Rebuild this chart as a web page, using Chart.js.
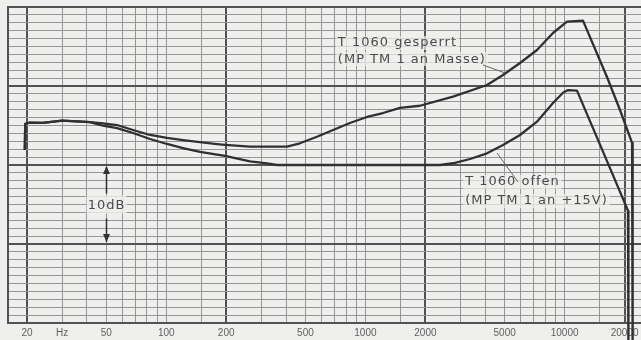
<!DOCTYPE html>
<html>
<head>
<meta charset="utf-8">
<style>
  html, body { margin: 0; padding: 0; background: #efefed; }
  #wrap { width: 641px; height: 340px; }
</style>
<script src="https://cdn.jsdelivr.net/npm/chart.js@4.4.1/dist/chart.umd.min.js"></script>
</head>
<body>
<div id="wrap"><canvas id="chart" width="641" height="340"></canvas></div>
<script>
// log paper: vertical lines (Hz) and the labelled ones
const gridFreqs = [20, 30, 40, 50, 60, 70, 80, 90, 100, 150, 200, 300, 400, 500, 600, 700, 800, 900,
    1000, 1500, 2000, 3000, 4000, 5000, 6000, 7000, 8000, 9000, 10000, 15000, 20000];
const thickFreqs = [20, 200, 2000, 20000];
const labelFreqs = [20, 30, 50, 100, 200, 500, 1000, 2000, 5000, 10000, 20000];
const labelTexts = ['20', 'Hz', '50', '100', '200', '500', '1000', '2000', '5000', '10000', '20000'];

// T 1060 gesperrt (MP TM 1 an Masse)
const freqGesperrt = [19.5, 19.6, 20.5, 24.0, 30.0, 35.6, 41.4, 48.1, 56.6, 68.1, 82.9, 100.9, 121.4,
    147.8, 179.9, 197.3, 263.4, 403.8, 469, 571, 688, 836, 1018, 1225, 1491, 1879, 2752, 4076, 4906,
    5969, 7265, 8738, 10276, 12362, 16314, 18961, 21800, 21950];
const levelGesperrt = [-18.1, -14.8, -14.65, -14.68, -14.39, -14.49, -14.56, -14.72, -14.94, -15.57,
    -16.2, -16.58, -16.84, -17.1, -17.35, -17.45, -17.68, -17.68, -17.25, -16.42, -15.57, -14.68,
    -13.92, -13.42, -12.78, -12.5, -11.35, -9.87, -8.61, -7.09, -5.44, -3.29, -1.86, -1.73, -8.86,
    -13.04, -17.2, -46];

// T 1060 offen (MP TM 1 an +15V)
const freqOffen = [19.5, 19.6, 20.5, 24.0, 30.0, 35.6, 41.4, 48.1, 56.6, 68.1, 82.9, 100.9, 121.4,
    147.8, 179.9, 197.3, 263.4, 320.6, 359.8, 2369, 2752, 3349, 4076, 4906, 5969, 7265, 8738, 9811,
    10397, 11535, 16892, 20804, 20900];
const levelOffen = [-18.1, -14.8, -14.65, -14.68, -14.39, -14.49, -14.56, -15.03, -15.32, -15.95,
    -16.71, -17.34, -17.85, -18.35, -18.7, -18.85, -19.55, -19.8, -20, -20, -19.78, -19.24, -18.52,
    -17.47, -16.2, -14.52, -12.15, -10.85, -10.51, -10.59, -20.4, -25.8, -46];

const ink = '#303030';
const thinGrid = '#969696';
const thickGrid = '#525252';

// labels written on the sheet, placed in (Hz, dB)
const notes = [
    { f: 727, db: -4.56, text: 'T 1060 gesperrt' },
    { f: 727, db: -6.6, text: '(MP TM 1 an Masse)' },
    { f: 3166, db: -22.15, text: 'T 1060 offen' },
    { f: 3166, db: -24.56, text: '(MP TM 1 an +15V)' }
];
const leaders = [
    [3891, -7.34, 5018, -8.35],
    [4575, -18.48, 5832, -22.15]
];

const paperPlugin = {
    id: 'paper',
    beforeDraw(chart) {
        const ctx = chart.ctx;
        ctx.save();
        ctx.fillStyle = '#efefed';
        ctx.fillRect(0, 0, chart.width, chart.height);
        ctx.restore();
    }
};

const notesPlugin = {
    id: 'notes',
    afterDatasetsDraw(chart) {
        const { ctx, scales: { x, y } } = chart;
        ctx.save();
        ctx.font = '13px "DejaVu Sans"';
        ctx.letterSpacing = '1px';
        ctx.textBaseline = 'middle';
        notes.forEach(n => {
            const px = x.getPixelForValue(n.f);
            const py = y.getPixelForValue(n.db);
            const w = ctx.measureText(n.text).width;
            ctx.fillStyle = 'rgba(239,239,237,0.7)';
            ctx.fillRect(px - 2, py - 7, w + 4, 14);
            ctx.fillStyle = '#4a4a4a';
            ctx.fillText(n.text, px, py);
        });

        ctx.strokeStyle = '#666';
        ctx.lineWidth = 1;
        leaders.forEach(l => {
            ctx.beginPath();
            ctx.moveTo(x.getPixelForValue(l[0]), y.getPixelForValue(l[1]));
            ctx.lineTo(x.getPixelForValue(l[2]), y.getPixelForValue(l[3]));
            ctx.stroke();
        });

        // 10 dB marker
        const mx = Math.round(x.getPixelForValue(50)) + 0.5;
        const top = y.getPixelForValue(-20);
        const bottom = y.getPixelForValue(-30);
        const mid = (top + bottom) / 2;
        ctx.fillStyle = 'rgba(239,239,237,0.8)';
        ctx.fillRect(mx - 20, mid - 9, 40, 18);
        ctx.strokeStyle = '#333';
        ctx.lineWidth = 1.5;
        ctx.beginPath();
        ctx.moveTo(mx, top + 2);
        ctx.lineTo(mx, mid - 11);
        ctx.moveTo(mx, mid + 14);
        ctx.lineTo(mx, bottom - 2);
        ctx.stroke();
        ctx.fillStyle = '#333';
        ctx.beginPath();
        ctx.moveTo(mx, top + 1);
        ctx.lineTo(mx - 3.5, top + 9);
        ctx.lineTo(mx + 3.5, top + 9);
        ctx.closePath();
        ctx.fill();
        ctx.beginPath();
        ctx.moveTo(mx, bottom - 2);
        ctx.lineTo(mx - 3.5, bottom - 10);
        ctx.lineTo(mx + 3.5, bottom - 10);
        ctx.closePath();
        ctx.fill();
        ctx.fillStyle = '#4a4a4a';
        ctx.textAlign = 'center';
        ctx.fillText('10dB', mx, mid + 1);
        ctx.restore();
    }
};

function toPoints(freqs, levels) {
    return freqs.map((f, i) => ({ x: f, y: levels[i] }));
}

new Chart(document.getElementById('chart'), {
    type: 'line',
    data: {
        datasets: [
            {
                label: 'T 1060 gesperrt',
                data: toPoints(freqGesperrt, levelGesperrt),
                borderColor: ink,
                borderWidth: 2.3,
                pointRadius: 0,
                tension: 0,
                borderJoinStyle: 'round',
                clip: false
            },
            {
                label: 'T 1060 offen',
                data: toPoints(freqOffen, levelOffen),
                borderColor: ink,
                borderWidth: 2.3,
                pointRadius: 0,
                tension: 0,
                borderJoinStyle: 'round',
                clip: false
            }
        ]
    },
    options: {
        responsive: false,
        animation: false,
        devicePixelRatio: 1,
        layout: { padding: { left: 8, top: 7, right: 0, bottom: 0 } },
        plugins: {
            legend: { display: false },
            tooltip: { enabled: false }
        },
        scales: {
            x: {
                type: 'logarithmic',
                min: 16.06,
                max: 24170,
                afterBuildTicks: (axis) => {
                    axis.ticks = gridFreqs.map(v => ({ value: v }));
                },
                afterFit: (axis) => {
                    axis.height = 17;
                    axis.paddingLeft = 0;
                    axis.paddingRight = 0;
                },
                grid: {
                    drawTicks: false,
                    color: (c) => thickFreqs.includes(c.tick && c.tick.value) ? thickGrid : thinGrid,
                    lineWidth: (c) => thickFreqs.includes(c.tick && c.tick.value) ? 2 : 1
                },
                border: { display: true, color: thickGrid, width: 2 },
                ticks: {
                    autoSkip: false,
                    maxRotation: 0,
                    padding: 4,
                    color: '#606060',
                    font: { family: 'Liberation Sans', size: 10 },
                    callback: (value) => {
                        const i = labelFreqs.indexOf(value);
                        return i >= 0 ? labelTexts[i] : '';
                    }
                }
            },
            y: {
                type: 'linear',
                min: -40,
                max: 0,
                grid: {
                    drawTicks: false,
                    color: (c) => c.tick && c.tick.value % 10 === 0 ? thickGrid : thinGrid,
                    lineWidth: (c) => c.tick && c.tick.value % 10 === 0 ? 2 : 1
                },
                border: { display: true, color: thickGrid, width: 2 },
                ticks: { display: false, stepSize: 1, maxTicksLimit: 50 }
            }
        }
    },
    plugins: [paperPlugin, notesPlugin]
});
</script>
</body>
</html>
